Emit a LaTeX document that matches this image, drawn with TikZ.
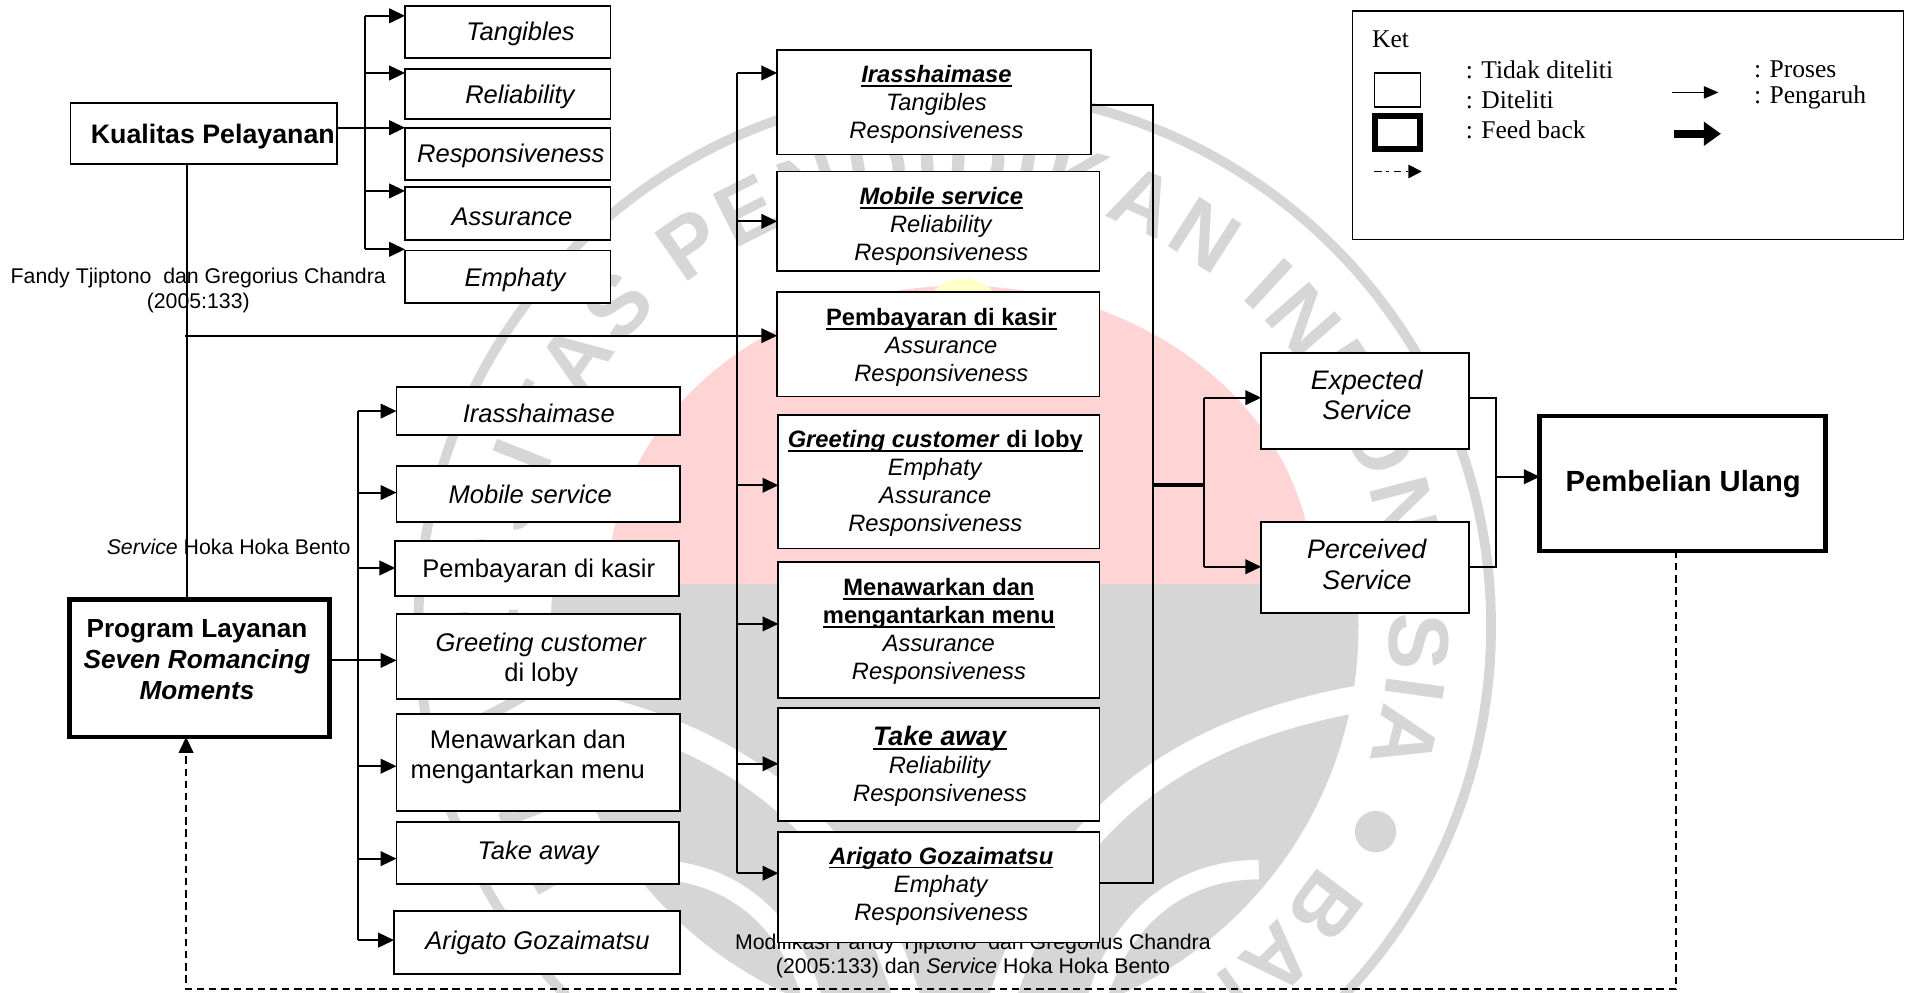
\documentclass[tikz,border=0pt]{standalone}
\usepackage{fontspec}
\setmainfont{Liberation Sans}
\newfontfamily\serifleg{Liberation Serif}
\newfontfamily\wmfont{Liberation Sans}
\usetikzlibrary{arrows.meta,decorations.text}

\definecolor{wmgray}{RGB}{214,214,214}
\definecolor{wmpink}{RGB}{255,212,212}
\definecolor{wmyellow}{RGB}{255,255,200}

\newcommand\fsz[2]{\fontsize{#1}{#2}\selectfont}
% underlined heading with a heavier rule
\newcommand\ulhead[1]{\setbox0\hbox{#1}\rlap{\rule[-3.5pt]{\wd0}{1.5pt}}\box0}

\begin{document}
\begin{tikzpicture}[x=1pt,y=-1pt,
  box/.style={draw, rectangle, line width=1.5pt, fill=white, inner sep=0pt, outer sep=0pt},
  thickbox/.style={box, line width=4pt},
  txt/.style={inner sep=0pt, align=center},
  ln/.style={line width=1.6pt},
  arr/.style={line width=1.6pt, -{Triangle[length=13pt,width=12pt]}},
  fb/.style={line width=1.6pt, dash pattern=on 6pt off 4pt, -{Triangle[length=13pt,width=12pt]}},
  lft/.style={txt, font=\fsz{21}{25}},
  mid/.style={txt, font=\fsz{19.5}{23}}]

\fill[white] (0,0) rectangle (1568,816);
\useasboundingbox (0,0) rectangle (1568,816);

% ---------- university seal in the background ----------
\begin{scope}[shift={(785,515)}, y=1pt]
  \begin{scope}
    \clip (-400,35) rectangle (400,-400);
    \fill[wmgray] (0,0) circle[radius=332];
  \end{scope}
  \draw[white, line width=22pt] (-330,-60) .. controls (-170,-90) and (-70,-170) .. (-30,-340);
  \draw[white, line width=22pt] (330,-60) .. controls (170,-90) and (70,-170) .. (30,-340);
  \draw[white, line width=16pt] (-250,-200) .. controls (-170,-200) and (-120,-260) .. (-110,-340);
  \draw[white, line width=16pt] (250,-200) .. controls (170,-200) and (120,-260) .. (110,-340);
  \fill[wmpink] (-285,35) arc[start angle=180, end angle=0, x radius=290, y radius=245] -- cycle;
  \fill[wmyellow] (7,253) circle[radius=33];
  \draw[wmgray, line width=8pt] (0,0) circle[radius=441];
  \path[decorate, decoration={text along path,
      text={|\wmfont\bfseries\fsz{70}{70}|UNIVERSITAS PENDIDIKAN INDONESIA},
      text color=wmgray, text align=fit to path}]
    (214:358) arc[start angle=214, end angle=-18, radius=358];
  \fill[wmgray] (-26:385) circle[radius=17];
  \path[decorate, decoration={text along path,
      text={|\wmfont\bfseries\fsz{70}{70}|BANDUNG},
      text color=wmgray, text align=fit to path}]
    (-33:358) arc[start angle=-33, end angle=-95, radius=358];
\end{scope}

% ---------- Kualitas Pelayanan and its dimensions ----------
\node[box, minimum width=219pt, minimum height=50pt] (kp) at (167.5,110) {};
\node[txt, font=\bfseries\fsz{22}{26}] (kpt) at (175,112.5) {Kualitas Pelayanan};

\node[box, minimum width=169pt, minimum height=43pt] (t1) at (417.5,26.5) {};
\node[box, minimum width=169pt, minimum height=41pt] (t2) at (417.5,77.5) {};
\node[box, minimum width=169pt, minimum height=43pt] (t3) at (417.5,126.5) {};
\node[box, minimum width=169pt, minimum height=43pt] (t4) at (417.5,175.5) {};
\node[box, minimum width=169pt, minimum height=43pt] (t5) at (417.5,227.5) {};
\node[lft] (t1t) at (428,28) {\textit{Tangibles}};
\node[lft] (t2t) at (428,80) {\textit{Reliability}};
\node[lft] (t3t) at (420,128) {\textit{Responsiveness}};
\node[lft] (t4t) at (421,178) {\textit{Assurance}};
\node[lft] (t5t) at (424,230) {\textit{Emphaty}};

\draw[ln] (300,13) -- (300,205);
\draw[arr] (300,13) -- (t1.west |- 0,13);
\draw[arr] (300,60) -- (t2.west |- 0,60);
\draw[arr] (kp.east |- 0,105) -- (t3.west |- 0,105);
\draw[arr] (300,157) -- (t4.west |- 0,157);
\draw[arr] (300,205) -- (t5.west |- 0,205);

% ---------- source notes on the left ----------
\node[txt, font=\fsz{17.5}{21}] (src1) at (163,239) {Fandy Tjiptono\ \ dan Gregorius Chandra\\(2005:133)};
\node[txt, font=\fsz{17.5}{21}] (src2) at (188,450) {\textit{Service} Hoka Hoka Bento};

% ---------- Program Layanan and the seven moments ----------
\node[thickbox, minimum width=214pt, minimum height=113pt] (pl) at (164,549.5) {};
\node[txt, font=\bfseries\fsz{21.5}{25.5}] (plt) at (162,542.5) {Program Layanan\\\textit{Seven Romancing}\\\textit{Moments}};

\draw[ln] (kp.south -| 154,0) -- (pl.north -| 154,0);

\node[box, minimum width=233pt, minimum height=40pt] (l1) at (442.5,338) {};
\node[box, minimum width=233pt, minimum height=46pt] (l2) at (442.5,406) {};
\node[box, minimum width=233pt, minimum height=45pt] (l3) at (441.5,467.5) {};
\node[box, minimum width=233pt, minimum height=70pt] (l4) at (442.5,540) {};
\node[box, minimum width=233pt, minimum height=80pt] (l5) at (442.5,627) {};
\node[box, minimum width=232pt, minimum height=51pt] (l6) at (442,701.5) {};
\node[box, minimum width=235pt, minimum height=52pt] (l7) at (441.5,775) {};
\node[lft] (l1t) at (443,340) {\textit{Irasshaimase}};
\node[lft] (l2t) at (436,406.5) {\textit{Mobile service}};
\node[lft] (l3t) at (443,469) {Pembayaran di kasir};
\node[lft] (l4t) at (445,542.5) {\textit{Greeting customer}\\di loby};
\node[lft] (l5t) at (434,622.5) {Menawarkan dan\\mengantarkan menu};
\node[lft] (l6t) at (443,701) {\textit{Take away}};
\node[lft] (l7t) at (442,775) {\textit{Arigato Gozaimatsu}};

\draw[ln] (294,338) -- (294,773);
\draw[arr] (294,338) -- (l1.west |- 0,338);
\draw[arr] (294,405) -- (l2.west |- 0,405);
\draw[arr] (294,467) -- (l3.west |- 0,467);
\draw[arr] (pl.east |- 0,543) -- (l4.west |- 0,543);
\draw[arr] (294,630) -- (l5.west |- 0,630);
\draw[arr] (294,706) -- (l6.west |- 0,706);
\draw[arr] (294,773) -- (l7.west |- 0,773);

% ---------- caption under the middle column ----------
\node[txt, font=\fsz{17.5}{20}] (cap) at (800,786) {Modifikasi Fandy Tjiptono\ \ dan Gregorius Chandra\\(2005:133) dan \textit{Service} Hoka Hoka Bento};

% ---------- moments mapped to service dimensions ----------
\node[box, minimum width=258pt, minimum height=86pt] (m1) at (768,84) {};
\node[box, minimum width=265pt, minimum height=82pt] (m2) at (771.5,182) {};
\node[box, minimum width=265pt, minimum height=86pt] (m3) at (771.5,283) {};
\node[box, minimum width=264pt, minimum height=110pt] (m4) at (772,396) {};
\node[box, minimum width=264pt, minimum height=112pt] (m5) at (772,518) {};
\node[box, minimum width=264pt, minimum height=93pt] (m6) at (772,628.5) {};
\node[box, minimum width=264pt, minimum height=91pt] (m7) at (772,729.5) {};
\node[mid] (m1t) at (770,86) {\ulhead{\textbf{\textit{Irasshaimase}}}\\\textit{Tangibles}\\\textit{Responsiveness}};
\node[mid] (m2t) at (774,186.5) {\ulhead{\textbf{\textit{Mobile service}}}\\\textit{Reliability}\\\textit{Responsiveness}};
\node[mid] (m3t) at (774,285.5) {\ulhead{\textbf{Pembayaran di kasir}}\\\textit{Assurance}\\\textit{Responsiveness}};
\node[mid] (m4t) at (769,397.5) {\ulhead{\textbf{\textit{Greeting customer} di loby}}\\\textit{Emphaty}\\\textit{Assurance}\\\textit{Responsiveness}};
\node[mid] (m5t) at (772,519.5) {\ulhead{\textbf{Menawarkan dan}}\\\ulhead{\textbf{mengantarkan menu}}\\\textit{Assurance}\\\textit{Responsiveness}};
\node[mid] (m6t) at (773,630) {\ulhead{\fsz{22}{23}\textbf{\textit{Take away}}}\\\textit{Reliability}\\\textit{Responsiveness}};
\node[mid] (m7t) at (774,728.5) {\ulhead{\textbf{\textit{Arigato Gozaimatsu}}}\\\textit{Emphaty}\\\textit{Responsiveness}};

\draw[ln] (606,60) -- (606,718);
\draw[arr] (606,60) -- (m1.west |- 0,60);
\draw[arr] (606,182) -- (m2.west |- 0,182);
\draw[arr] (152,276) -- (m3.west |- 0,276);
\draw[arr] (606,399) -- (m4.west |- 0,399);
\draw[arr] (606,513) -- (m5.west |- 0,513);
\draw[arr] (606,628) -- (m6.west |- 0,628);
\draw[arr] (606,718) -- (m7.west |- 0,718);

\draw[ln] (m1.east |- 0,86) -- (948,86) -- (948,726) -- (m7.east |- 0,726);
\draw[line width=3.5pt] (948,399) -- (990,399);
\draw[ln] (990,327) -- (990,466);

% ---------- expected / perceived service ----------
\node[box, minimum width=171pt, minimum height=79pt] (es) at (1122.5,329.5) {};
\node[box, minimum width=171pt, minimum height=75pt] (ps) at (1122.5,466.5) {};
\node[txt, font=\fsz{22}{25}] (est) at (1124,324.5) {\textit{Expected}\\\textit{Service}};
\node[txt, font=\fsz{22}{25}] (pst) at (1124,464) {\textit{Perceived}\\\textit{Service}};
\draw[arr] (990,327) -- (es.west |- 0,327);
\draw[arr] (990,466) -- (ps.west |- 0,466);

\node[thickbox, minimum width=235pt, minimum height=111pt] (pu) at (1383.5,397.5) {};
\node[txt, font=\bfseries\fsz{24}{28}] (put) at (1384,398) {Pembelian Ulang};
\draw[ln] (es.east |- 0,327) -- (1230,327) -- (1230,466) -- (ps.east |- 0,466);
\draw[arr] (1230,392) -- (pu.west |- 0,392);

% ---------- feedback loop ----------
\draw[fb] (pu.south -| 1378,0) -- (1378,813) -- (153,813) -- (pl.south -| 153,0);

% ---------- legend ----------
\node[box, line width=1.4pt, minimum width=453pt, minimum height=188pt] (lg) at (1338.5,103) {};
\node[anchor=west, inner sep=0pt, font=\serifleg\fsz{21}{25}] (ket) at (1128,32) {Ket};
\node[draw, line width=1.2pt, minimum width=38pt, minimum height=28pt, inner sep=0pt] (lgthin) at (1149,74) {};
\node[draw, line width=5pt, minimum width=37pt, minimum height=27pt, inner sep=0pt] (lgthick) at (1149,109) {};
\coordinate (dda) at (1130,141);
\coordinate (ddb) at (1169,141);
\draw[line width=1.4pt, dash pattern=on 6pt off 4pt on 2pt off 4pt, -{Triangle[length=11pt,width=11pt]}] (dda) -- (ddb);
\node[anchor=west, inner sep=0pt, font=\serifleg\fsz{21}{25}] (lg1) at (1205,57) {: Tidak diteliti};
\node[anchor=west, inner sep=0pt, font=\serifleg\fsz{21}{25}] (lg2) at (1205,82) {: Diteliti};
\node[anchor=west, inner sep=0pt, font=\serifleg\fsz{21}{25}] (lg3) at (1205,107) {: Feed back};
\coordinate (tha) at (1375,76);
\coordinate (thb) at (1413,76);
\draw[line width=1.4pt, -{Triangle[length=12pt,width=10pt]}] (tha) -- (thb);
\coordinate (tka) at (1376,110);
\coordinate (tkb) at (1415,110);
\draw[line width=7pt, -{Triangle[length=14pt,width=19pt]}] (tka) -- (tkb);
\node[anchor=west, inner sep=0pt, font=\serifleg\fsz{21}{25}] (lg4) at (1442,57) {: Proses};
\node[anchor=west, inner sep=0pt, font=\serifleg\fsz{21}{25}] (lg5) at (1442,80) {: Pengaruh};

\end{tikzpicture}
\end{document}
